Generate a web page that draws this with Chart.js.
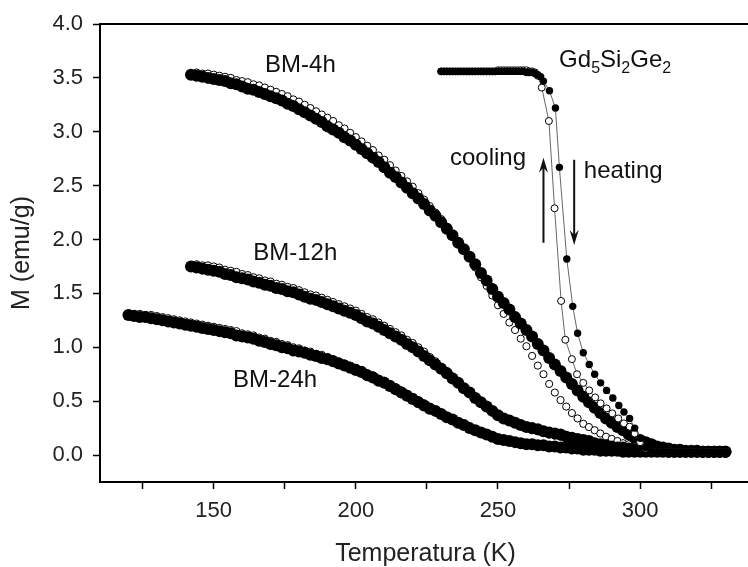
<!DOCTYPE html>
<html>
<head>
<meta charset="utf-8">
<script src="https://cdn.jsdelivr.net/npm/chart.js@4/dist/chart.umd.min.js"></script>
<style>
html,body{margin:0;padding:0;background:#fff;overflow:hidden;}
canvas{display:block;}
</style>
</head>
<body>
<canvas id="c" width="757" height="567"></canvas>
<script>
// ---------- DATA ----------
const tempBM = [142,144,146,148,150,152,154,156,158,160,162,164,166,168,170,172,174,176,178,180,
  182,184,186,188,190,192,194,196,198,200,202,204,206,208,210,212,214,216,218,220,
  222,224,226,228,230,232,234,236,238,240,242,244,246,248,250,252,254,256,258,260,
  262,264,266,268,270,272,274,276,278,280,282,284,286,288,290,292,294,296,298,300,
  302,304,306,308,310,312,314,316,318,320,322,324,326,328,330];
const tempBM24 = [120,122,124,126,128,130,132,134,136,138,140,142,144,146,148,150,152,154,156,158,
  160,162,164,166,168,170,172,174,176,178,180,182,184,186,188,190,192,194,196,198,
  200,202,204,206,208,210,212,214,216,218,220,222,224,226,228,230,232,234,236,238,
  240,242,244,246,248,250,252,254,256,258,260,262,264,266,268,270,272,274,276,278,
  280,282,284,286,288,290,292,294,296,298,300,302,304,306,308,310,312,314,316,318,
  320,322,324,326,328,330];

const bm4Heating = [3.53,3.52,3.51,3.50,3.49,3.48,3.47,3.45,3.44,3.42,
  3.40,3.39,3.37,3.35,3.33,3.31,3.29,3.26,3.24,3.21,
  3.18,3.15,3.12,3.09,3.05,3.02,2.99,2.95,2.92,2.88,
  2.84,2.80,2.76,2.72,2.67,2.62,2.58,2.53,2.48,2.43,
  2.38,2.33,2.27,2.22,2.16,2.10,2.04,1.97,1.91,1.84,
  1.77,1.69,1.62,1.54,1.47,1.41,1.35,1.28,1.22,1.16,
  1.10,1.03,0.97,0.90,0.84,0.78,0.72,0.66,0.60,0.54,
  0.49,0.44,0.39,0.34,0.30,0.26,0.23,0.19,0.16,0.14,
  0.12,0.10,0.08,0.07,0.06,0.05,0.05,0.04,0.04,0.04,
  0.03,0.03,0.03,0.03,0.03];
const bm4Cooling = [null,3.55,3.54,3.54,3.53,3.52,3.51,3.50,3.48,3.47,
  3.46,3.44,3.43,3.41,3.39,3.37,3.35,3.33,3.30,3.28,
  3.25,3.22,3.19,3.16,3.13,3.10,3.06,3.03,2.99,2.95,
  2.91,2.87,2.83,2.78,2.74,2.69,2.64,2.59,2.54,2.49,
  2.43,2.37,2.31,2.25,2.19,2.12,2.05,1.98,1.90,1.83,
  1.74,1.65,1.57,1.48,1.39,1.31,1.23,1.16,1.08,1.01,
  0.92,0.83,0.75,0.66,0.58,0.51,0.45,0.39,0.34,0.29,
  0.26,0.23,0.20,0.17,0.15,0.13,0.11,0.10,0.08,0.07,
  0.06,0.05,0.05,0.04,0.04,0.04,0.04,0.03,0.03,0.03,
  0.03,0.03,0.03,0.03,0.03];
const bm12Heating = [1.75,1.74,1.73,1.72,1.71,1.70,1.68,1.67,1.65,1.64,
  1.63,1.61,1.60,1.58,1.57,1.55,1.54,1.52,1.51,1.49,
  1.47,1.45,1.44,1.42,1.40,1.38,1.36,1.34,1.32,1.30,
  1.27,1.24,1.22,1.19,1.16,1.13,1.10,1.07,1.03,1.00,
  0.96,0.92,0.88,0.84,0.80,0.76,0.71,0.67,0.62,0.58,
  0.53,0.49,0.45,0.41,0.37,0.34,0.32,0.30,0.28,0.26,
  0.25,0.24,0.22,0.21,0.20,0.19,0.17,0.16,0.15,0.14,
  0.13,0.11,0.10,0.09,0.08,0.07,0.07,0.06,0.05,0.05,
  0.04,0.04,0.04,0.04,0.03,0.03,0.03,0.03,0.03,0.03,
  0.03,0.03,0.03,0.03,0.03];
const bm12Cooling = [null,1.77,1.76,1.76,1.75,1.74,1.72,1.71,1.70,1.68,
  1.67,1.65,1.64,1.62,1.61,1.59,1.58,1.56,1.55,1.53,
  1.51,1.49,1.48,1.46,1.44,1.42,1.40,1.38,1.36,1.34,
  1.31,1.28,1.26,1.23,1.20,1.17,1.14,1.11,1.07,1.04,
  1.00,0.96,0.91,0.87,0.82,0.78,0.73,0.68,0.63,0.59,
  0.54,0.49,0.45,0.41,0.37,0.34,0.31,0.29,0.27,0.25,
  0.23,0.22,0.21,0.19,0.18,0.17,0.16,0.15,0.14,0.13,
  0.12,0.11,0.10,0.09,0.08,0.07,0.06,0.06,0.05,0.05,
  0.04,0.04,0.04,0.03,0.03,0.03,0.03,0.03,0.03,0.03,
  0.03,0.03,0.03,0.03,0.03];
const bm24Heating = [1.30,1.29,1.28,1.28,1.27,1.26,1.25,1.24,1.23,1.22,
  1.21,1.20,1.19,1.18,1.17,1.16,1.15,1.14,1.13,1.11,
  1.10,1.09,1.08,1.06,1.05,1.03,1.02,1.00,0.99,0.97,
  0.96,0.95,0.93,0.92,0.90,0.89,0.87,0.85,0.83,0.81,
  0.79,0.77,0.74,0.72,0.69,0.67,0.64,0.61,0.58,0.55,
  0.52,0.49,0.46,0.43,0.41,0.38,0.35,0.33,0.30,0.28,
  0.25,0.23,0.21,0.19,0.17,0.15,0.14,0.13,0.12,0.11,
  0.10,0.10,0.09,0.09,0.08,0.08,0.07,0.07,0.06,0.06,
  0.05,0.05,0.05,0.04,0.04,0.04,0.04,0.03,0.03,0.03,
  0.03,0.03,0.03,0.03,0.03,0.03,0.03,0.03,0.03,0.03,
  0.03,0.03,0.03,0.03,0.03,0.03];
const bm24Cooling = [null,1.31,1.31,1.30,1.30,1.29,1.28,1.27,1.26,1.25,
  1.24,1.23,1.22,1.21,1.20,1.19,1.18,1.17,1.16,1.15,
  1.13,1.12,1.11,1.09,1.08,1.06,1.05,1.03,1.02,1.00,
  0.99,0.97,0.96,0.94,0.93,0.91,0.89,0.87,0.85,0.83,
  0.81,0.79,0.76,0.74,0.71,0.69,0.66,0.63,0.60,0.57,
  0.54,0.51,0.48,0.45,0.42,0.39,0.36,0.33,0.31,0.28,
  0.26,0.23,0.21,0.19,0.17,0.15,0.14,0.13,0.12,0.11,
  0.10,0.09,0.09,0.08,0.08,0.07,0.07,0.06,0.06,0.05,
  0.05,0.05,0.04,0.04,0.04,0.04,0.03,0.03,0.03,0.03,
  0.03,0.03,0.03,0.03,0.03,0.03,0.03,0.03,0.03,0.03,
  0.03,0.03,0.03,0.03,0.03,0.03];

const gdHeatTemp = [230,231,232,233,234,235,236,237,238,239,240,241,242,243,244,245,246,247,248,249,
  250,251,252,253,254,255,256,257,258,259,260,261,262,263,264,265,266,
  268.1,270.2,271.6,274.2,276.3,278,280,282.1,284,286.1,288.2,290.4,292.5,294.3,296.3,298.1,300.1,
  302,304,306,308,310,312,314,316,318,320,322,324,326,328,330];
const gdHeating = [3.56,3.56,3.56,3.56,3.56,3.56,3.56,3.56,3.56,3.56,3.56,3.56,3.56,3.56,3.56,3.56,3.56,3.56,3.56,3.56,
  3.56,3.56,3.56,3.56,3.56,3.56,3.56,3.56,3.56,3.56,3.55,3.55,3.55,3.54,3.53,3.51,3.47,
  3.38,3.22,2.67,1.82,1.38,1.13,0.95,0.84,0.75,0.67,0.60,0.53,0.46,0.40,0.34,0.25,0.155,
  0.07,0.04,0.03,0.03,0.03,0.03,0.03,0.03,0.03,0.03,0.03,0.03,0.03,0.03,0.03];
const gdCoolTemp = [230,231,232,233,234,235,236,237,238,239,240,241,242,243,244,245,246,247,248,249,
  250,251,252,253,254,255,256,257,258,259,260,261,262,263,264,
  265.4,267.9,269.9,272.2,273.7,276,277.8,280,282.1,284.2,286.1,288.2,290.2,292.3,294.3,296.3,298.1,300,
  302,304,306,308,310,312,314,316,318,320,322,324,326,328,330];
const gdCooling = [3.56,3.56,3.56,3.56,3.56,3.56,3.56,3.56,3.56,3.56,3.56,3.56,3.56,3.56,3.56,3.56,3.56,3.56,3.56,3.56,
  3.57,3.57,3.57,3.57,3.57,3.57,3.57,3.57,3.57,3.57,3.57,3.56,3.56,3.55,3.52,
  3.41,3.10,2.29,1.43,1.07,0.89,0.75,0.67,0.60,0.535,0.48,0.433,0.387,0.34,0.294,0.263,0.20,0.12,
  0.06,0.04,0.03,0.03,0.03,0.03,0.03,0.03,0.03,0.03,0.03,0.03,0.03,0.03,0.03];

const xTicksMajor = [150,200,250,300];
const yTickLabels = ['0.0','0.5','1.0','1.5','2.0','2.5','3.0','3.5','4.0'];

// text annotations (data coordinates) and arrows
const labels = [
  {text:'BM-4h',  t:180.5, m:3.553, align:'center'},
  {text:'BM-12h', t:178.7, m:1.814, align:'center'},
  {text:'BM-24h', t:171.6, m:0.631, align:'center'},
  {text:'cooling',t:233.1, m:2.69,  align:'left'},
  {text:'heating',t:280.2, m:2.57,  align:'left'}
];
const formulaLabel = {parts:[['Gd',0],['5',1],['Si',0],['2',1],['Ge',0],['2',1]], t:271.5, m:3.60};
const arrows = [ {t:266.0, from:1.97, to:2.76}, {t:276.8, from:2.74, to:1.95} ];

// ---------- BUILD ----------
function pts(tx, ys){ const out=[]; for(let i=0;i<tx.length;i++){ if(ys[i]!==null) out.push({x:tx[i],y:ys[i]}); } return out; }
const FONT = "'Liberation Sans', Arial, sans-serif";

function filledSet(tx, ys, r, order){
  return {data:pts(tx,ys), showLine:false, pointRadius:r, pointBackgroundColor:'#000', pointBorderColor:'#000', pointBorderWidth:0, order:order};
}
function openSet(tx, ys, r, order){
  return {data:pts(tx,ys), showLine:false, pointRadius:r, pointBackgroundColor:'#fff', pointBorderColor:'#000', pointBorderWidth:1, order:order};
}

const datasets = [
  openSet(tempBM, bm4Cooling, 3.6, 12),
  openSet(tempBM, bm12Cooling, 3.6, 12),
  openSet(tempBM24, bm24Cooling, 3.6, 12),
  filledSet(tempBM, bm4Heating, 6, 10),
  filledSet(tempBM, bm12Heating, 6, 10),
  filledSet(tempBM24, bm24Heating, 6, 10),
  {data:pts(gdCoolTemp,gdCooling), showLine:true, borderColor:'#666', borderWidth:1, pointRadius:3.5,
   pointBackgroundColor:'#fff', pointBorderColor:'#000', pointBorderWidth:1, order:2},
  {data:pts(gdHeatTemp,gdHeating), showLine:true, borderColor:'#666', borderWidth:1, pointRadius:3.7,
   pointBackgroundColor:'#000', pointBorderColor:'#000', pointBorderWidth:0, order:1}
];

const decor = {
  id:'decor',
  afterDraw(chart){
    const {ctx, chartArea:a, scales:{x,y}} = chart;
    ctx.save();
    // top frame line
    ctx.strokeStyle='#000'; ctx.lineWidth=2;
    ctx.beginPath(); ctx.moveTo(a.left, a.top); ctx.lineTo(a.right+2, a.top); ctx.stroke();
    // text labels
    ctx.fillStyle='#111'; ctx.textBaseline='alphabetic';
    ctx.font = '24px '+FONT;
    labels.forEach(l=>{ ctx.textAlign=l.align; ctx.fillText(l.text, x.getPixelForValue(l.t), y.getPixelForValue(l.m)); });
    // chemical formula with subscripts
    let px = x.getPixelForValue(formulaLabel.t); const py = y.getPixelForValue(formulaLabel.m);
    ctx.textAlign='left';
    formulaLabel.parts.forEach(([s,sub])=>{
      ctx.font = (sub? '16px ':'24px ')+FONT;
      ctx.fillText(s, px, py + (sub?6:0));
      px += ctx.measureText(s).width;
    });
    // arrows
    ctx.strokeStyle='#111'; ctx.fillStyle='#111'; ctx.lineWidth=2;
    arrows.forEach(ar=>{
      const ax = x.getPixelForValue(ar.t), y0 = y.getPixelForValue(ar.from), y1 = y.getPixelForValue(ar.to);
      const dir = y1 < y0 ? -1 : 1;
      ctx.beginPath(); ctx.moveTo(ax, y0); ctx.lineTo(ax, y1 - dir*6); ctx.stroke();
      ctx.beginPath();
      ctx.moveTo(ax, y1);
      ctx.lineTo(ax-4.5, y1 - dir*15);
      ctx.lineTo(ax, y1 - dir*10);
      ctx.lineTo(ax+4.5, y1 - dir*15);
      ctx.closePath(); ctx.fill();
    });
    ctx.restore();
  }
};

new Chart(document.getElementById('c'), {
  type:'scatter',
  data:{datasets},
  plugins:[decor],
  options:{
    responsive:false, animation:false, devicePixelRatio:1,
    layout:{padding:{top:24,right:0,left:0,bottom:0}},
    plugins:{legend:{display:false}, tooltip:{enabled:false}},
    scales:{
      x:{type:'linear', min:110, max:339,
         afterFit(s){ s.height = 85; },
         ticks:{stepSize:25, includeBounds:false, autoSkip:false, maxRotation:0,
                callback:v=> xTicksMajor.includes(v) ? String(v) : '',
                font:{family:FONT,size:22}, color:'#222', padding:9},
         grid:{drawOnChartArea:false, drawTicks:true, tickLength:7, tickWidth:1.5, tickColor:'#000'},
         border:{display:true, color:'#000', width:2},
         title:{display:true, text:'Temperatura (K)', color:'#222', font:{family:FONT,size:25,lineHeight:1}, padding:{top:0,bottom:0}}
      },
      y:{type:'linear', min:-0.25, max:4.0,
         afterFit(s){ s.width = 100; },
         ticks:{stepSize:0.5, includeBounds:false, autoSkip:false,
                callback:v=>{ const i = Math.round(v/0.5); return (i>=0 && i<yTickLabels.length && Math.abs(v-i*0.5)<1e-6) ? yTickLabels[i] : ''; },
                font:{family:FONT,size:22}, color:'#222', padding:10},
         grid:{drawOnChartArea:false, drawTicks:true, tickLength:7, tickWidth:1.5, tickColor:'#000'},
         border:{display:true, color:'#000', width:2},
         title:{display:true, text:'M (emu/g)', color:'#222', font:{family:FONT,size:25,lineHeight:1.2}, padding:{top:7,bottom:0}}
      }
    }
  }
});
</script>
</body>
</html>
